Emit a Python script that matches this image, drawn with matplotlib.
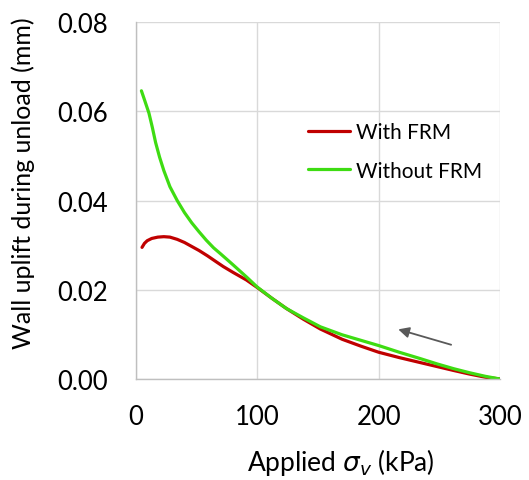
import matplotlib
matplotlib.use("Agg")
import matplotlib.pyplot as plt

# unloading curves, applied vertical stress (kPa) vs wall uplift (mm)
stress_frm = [5, 7, 9.3, 13, 18, 23, 28, 34, 40, 46, 52, 59, 66, 72, 80, 91,
              100, 112, 124, 138, 152, 170, 185, 200, 217, 234, 248, 262, 275, 288, 300]
uplift_frm = [0.0295, 0.0304, 0.0310, 0.0315, 0.0318, 0.0319, 0.0318, 0.0313,
              0.0306, 0.0297, 0.0288, 0.0276, 0.0263, 0.0252, 0.0239, 0.0222,
              0.0205, 0.0181, 0.0158, 0.0134, 0.0112, 0.0089, 0.0074, 0.0060,
              0.0048, 0.0037, 0.0028, 0.0019, 0.0011, 0.0004, 0.0]

stress_nofrm = [4.5, 7, 10.7, 13.5, 16.2, 19.5, 23, 28, 34, 40, 46, 52, 58, 64,
                70, 80, 91, 100, 112, 124, 138, 152, 170, 185, 200, 217, 234,
                248, 262, 275, 288, 300]
uplift_nofrm = [0.0646, 0.0626, 0.0596, 0.0564, 0.0530, 0.0497, 0.0467, 0.0431,
                0.0400, 0.0373, 0.0350, 0.0330, 0.0311, 0.0294, 0.0280, 0.0256,
                0.0229, 0.0206, 0.0181, 0.0158, 0.0137, 0.0117, 0.0099, 0.0087,
                0.0075, 0.0060, 0.0046, 0.0034, 0.0023, 0.0014, 0.0006, 0.0]

x_ticks = [0, 100, 200, 300]
y_ticks = [0.00, 0.02, 0.04, 0.06, 0.08]

plt.rcParams["font.family"] = ["Lato", "DejaVu Sans"]

fig = plt.figure(figsize=(5.29, 4.81), dpi=100)
ax = fig.add_axes([0.257, 0.21, 0.688, 0.742])

ax.plot(stress_frm, uplift_frm, color="#C00000", lw=2.3, label="With FRM",
        solid_capstyle="round")
ax.plot(stress_nofrm, uplift_nofrm, color="#3EDC12", lw=2.3, label="Without FRM",
        solid_capstyle="round")

ax.set_xlim(0, 300)
ax.set_ylim(0, 0.08)
ax.set_xticks(x_ticks)
ax.set_yticks(y_ticks)
ax.set_yticklabels([f"{v:.2f}" for v in y_ticks])
ax.tick_params(length=0, labelsize=18.5)
ax.tick_params(axis="y", pad=20)
ax.tick_params(axis="x", pad=18)
ax.grid(True, color="#D9D9D9", lw=1.0)
ax.set_axisbelow(True)
for side in ["top", "right"]:
    ax.spines[side].set_visible(False)
for side in ["left", "bottom"]:
    ax.spines[side].set_color("#BFBFBF")
    ax.spines[side].set_linewidth(1.0)

ax.set_xlabel(r"Applied $\sigma_v$ (kPa)", fontsize=19, va="center")
ax.xaxis.set_label_coords(0.563, -0.232)
ax.set_ylabel("Wall uplift during unload (mm)", fontsize=18, va="center")
ax.yaxis.set_label_coords(-0.31, 0.552)

# direction of unloading
ax.annotate("", xy=(214, 0.0113), xytext=(262, 0.0075),
            arrowprops=dict(arrowstyle="-|>", color="#595959", lw=1.3,
                            mutation_scale=16))

ax.legend(loc="upper left", bbox_to_anchor=(0.4725, 0.72), frameon=False,
          fontsize=15, handlelength=2.0, handletextpad=0.3, labelspacing=0.9,
          borderpad=0, borderaxespad=0)

fig.savefig("out.png", dpi=100)
